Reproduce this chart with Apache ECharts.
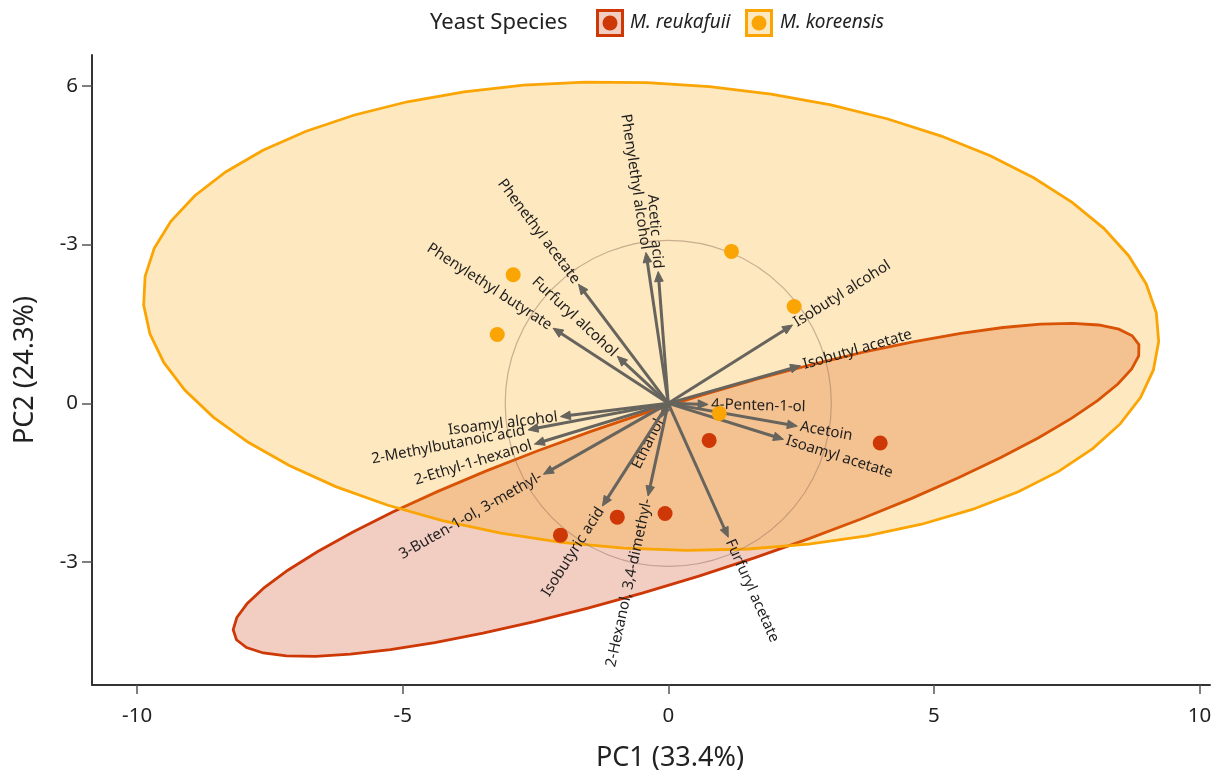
<!DOCTYPE html>
<html>
<head>
<meta charset="utf-8">
<title>PCA biplot - yeast species</title>
<script src="https://cdn.jsdelivr.net/npm/echarts@6/dist/echarts.min.js"></script>
<style>
    html, body { margin: 0; padding: 0; background: #fff; }
    #pca_biplot { width: 1216px; height: 777px; }
</style>
</head>
<body>
<div id="pca_biplot"></div>
<script>
// Sample scores per species
var reukafuiiX = [0.77, 3.99, -0.06, -0.96, -2.03];
var reukafuiiY = [-0.70, -0.75, -2.08, -2.15, -2.49];
var koreensisX = [1.19, 2.37, -2.92, -3.22, 0.96];
var koreensisY = [2.87, 1.83, 2.43, 1.30, -0.19];

// Variable loadings (arrow tips)
var variableNames = [
    'Phenylethyl alcohol', 'Acetic acid', 'Phenethyl acetate', 'Phenylethyl butyrate',
    'Furfuryl alcohol', 'Isobutyl alcohol', 'Isobutyl acetate', '4-Penten-1-ol',
    'Acetoin', 'Isoamyl acetate', 'Furfuryl acetate', '2-Hexanol, 3,4-dimethyl-',
    'Ethanol', 'Isobutyric acid', '3-Buten-1-ol, 3-methyl-', '2-Ethyl-1-hexanol',
    '2-Methylbutanoic acid', 'Isoamyl alcohol'
];
var loadingX = [-0.42, -0.19, -1.69, -2.17, -0.96, 2.34, 2.49, 0.75, 2.43, 2.17, 1.13, -0.38, -0.13, -1.24, -2.35, -2.52, -2.64, -2.03];
var loadingY = [2.85, 2.49, 2.25, 1.42, 0.89, 1.48, 0.71, -0.02, -0.43, -0.68, -2.53, -1.75, -0.26, -1.94, -1.34, -0.77, -0.50, -0.25];

// Correlation circle radius (in score units)
var circleRadius = 3.07;

// Axis ticks
var xTicks = [-10, -5, 0, 5, 10];
var yTicks = [6, 3, 0, -3];
var yTickLabels = ['6', '-3', '0', '-3'];

var speciesNames = ['M. reukafuii', 'M. koreensis'];
var RED = '#CD3806';
var ORANGE = '#FAA504';


// 95% normal data ellipse, as stat_ellipse(type = "norm")
function dataEllipse(xs, ys, segments) {
    var n = xs.length, mx = 0, my = 0, sxx = 0, syy = 0, sxy = 0, i;
    for (i = 0; i < n; i++) { mx += xs[i]; my += ys[i]; }
    mx /= n; my /= n;
    for (i = 0; i < n; i++) {
        var dx = xs[i] - mx, dy = ys[i] - my;
        sxx += dx * dx; syy += dy * dy; sxy += dx * dy;
    }
    sxx /= n - 1; syy /= n - 1; sxy /= n - 1;
    var tr = sxx + syy, det = sxx * syy - sxy * sxy;
    var disc = Math.sqrt(tr * tr / 4 - det);
    var l1 = tr / 2 + disc, l2 = Math.max(tr / 2 - disc, 0);
    var theta = 0.5 * Math.atan2(2 * sxy, sxx - syy);
    // F quantile for df1 = 2 has a closed form
    var d = n - 1;
    var f95 = (d / 2) * (Math.pow(0.05, -2 / d) - 1);
    var r = Math.sqrt(2 * f95);
    var a = r * Math.sqrt(l1), b = r * Math.sqrt(l2);
    var pts = [];
    for (var k = 0; k < segments; k++) {
        var t = 2 * Math.PI * k / segments;
        var ex = a * Math.cos(t), ey = b * Math.sin(t);
        pts.push([
            mx + ex * Math.cos(theta) - ey * Math.sin(theta),
            my + ex * Math.sin(theta) + ey * Math.cos(theta)
        ]);
    }
    return pts;
}

function ellipseSeries(pts, fill, stroke, z) {
    return {
        type: 'custom',
        z: z,
        silent: true,
        data: [[0, 0]],
        renderItem: function (params, api) {
            return {
                type: 'polygon',
                shape: { points: pts.map(function (p) { return api.coord(p); }) },
                style: { fill: fill, stroke: stroke, lineWidth: 2.8 }
            };
        }
    };
}

function zipPoints(xs, ys) {
    return xs.map(function (x, i) { return [x, ys[i]]; });
}

var chartElement = document.getElementById('pca_biplot');
var chart = echarts.init(chartElement);

chart.setOption({
    animation: false,
    textStyle: {
        fontFamily: '"Noto Sans", "Open Sans", sans-serif'
    },

    grid: {
        left: 92,
        right: 6,
        top: 55,
        bottom: 91
    },

    xAxis: {
        type: 'value',
        min: -10.85,
        max: 10.2,
        name: 'PC1 (33.4%)',
        nameLocation: 'middle',
        nameGap: 60,
        nameTextStyle: { fontSize: 27, color: '#222', padding: [0, 0, 0, 38] },
        axisLine: { onZero: false, lineStyle: { color: '#333', width: 2 } },
        axisTick: { customValues: xTicks, length: 9, lineStyle: { color: '#555', width: 1.5 } },
        axisLabel: { customValues: xTicks, fontSize: 20.5, color: '#222', margin: 21 },
        splitLine: { show: false }
    },

    yAxis: {
        type: 'value',
        min: -5.32,
        max: 6.58,
        name: 'PC2 (24.3%)',
        nameLocation: 'middle',
        nameGap: 53,
        nameTextStyle: { fontSize: 27, color: '#222' },
        axisLine: { onZero: false, lineStyle: { color: '#333', width: 2 } },
        axisTick: { customValues: yTicks, length: 10, lineStyle: { color: '#555', width: 1.5 } },
        axisLabel: {
            customValues: yTicks,
            fontSize: 20.5,
            color: '#222',
            margin: 14,
            formatter: function (v) {
                var i = yTicks.indexOf(v);
                return i >= 0 ? yTickLabels[i] : '';
            }
        },
        splitLine: { show: false }
    },

    // Legend drawn as graphic (boxed keys with dots)
    graphic: [
        { type: 'text', x: 430, y: 23, style: { text: 'Yeast Species', font: '22px "Noto Sans"', fill: '#222', verticalAlign: 'middle' } },
        { type: 'rect', shape: { x: 597.5, y: 10.5, width: 25, height: 25 }, style: { fill: 'rgba(205,56,6,0.25)', stroke: RED, lineWidth: 3 } },
        { type: 'circle', shape: { cx: 610, cy: 23, r: 7.5 }, style: { fill: RED } },
        { type: 'text', x: 630, y: 23, style: { text: speciesNames[0], font: 'italic 19px "Noto Sans"', fill: '#222', verticalAlign: 'middle' } },
        { type: 'rect', shape: { x: 746.5, y: 10.5, width: 25, height: 25 }, style: { fill: 'rgba(250,165,4,0.25)', stroke: ORANGE, lineWidth: 3 } },
        { type: 'circle', shape: { cx: 759, cy: 23, r: 7.5 }, style: { fill: ORANGE } },
        { type: 'text', x: 780, y: 23, style: { text: speciesNames[1], font: 'italic 19px "Noto Sans"', fill: '#222', verticalAlign: 'middle' } }
    ],

    series: [
        ellipseSeries(dataEllipse(reukafuiiX, reukafuiiY, 51), 'rgba(205,56,6,0.25)', RED, 1),
        ellipseSeries(dataEllipse(koreensisX, koreensisY, 51), 'rgba(250,165,4,0.25)', ORANGE, 1),

        // Correlation circle
        {
            type: 'custom',
            z: 2,
            silent: true,
            data: [[0, 0]],
            renderItem: function (params, api) {
                var c = api.coord([0, 0]);
                var r = api.size([circleRadius, 0])[0];
                return {
                    type: 'circle',
                    shape: { cx: c[0], cy: c[1], r: r },
                    style: { fill: 'none', stroke: 'rgba(150,115,95,0.5)', lineWidth: 1.2 }
                };
            }
        },

        // Loading arrows with labels
        {
            type: 'custom',
            z: 3,
            silent: true,
            data: loadingX.map(function (x, i) { return [x, loadingY[i], i]; }),
            renderItem: function (params, api) {
                var o = api.coord([0, 0]);
                var t = api.coord([api.value(0), api.value(1)]);
                var dx = t[0] - o[0], dy = t[1] - o[1];
                var len = Math.sqrt(dx * dx + dy * dy);
                var ux = dx / len, uy = dy / len;
                var head = 10, half = 4.3;
                var bx = t[0] - ux * head, by = t[1] - uy * head;
                var textRot = Math.atan(-dy / dx);
                var gap = 3;
                return {
                    type: 'group',
                    children: [
                        {
                            type: 'line',
                            shape: { x1: o[0], y1: o[1], x2: bx + ux * 2, y2: by + uy * 2 },
                            style: { stroke: '#66645d', lineWidth: 3 }
                        },
                        {
                            type: 'polygon',
                            shape: { points: [[t[0], t[1]], [bx - uy * half, by + ux * half], [bx + uy * half, by - ux * half]] },
                            style: { fill: '#66645d', stroke: '#66645d', lineWidth: 1 }
                        },
                        {
                            type: 'text',
                            x: t[0] + ux * gap,
                            y: t[1] + uy * gap,
                            rotation: textRot,
                            style: {
                                text: variableNames[api.value(2)],
                                font: '15px "Noto Sans"',
                                fill: '#1e1e1e',
                                align: dx >= 0 ? 'left' : 'right',
                                verticalAlign: 'middle'
                            }
                        }
                    ]
                };
            }
        },

        // Sample points
        {
            name: speciesNames[0],
            type: 'scatter',
            z: 4,
            symbolSize: 15,
            itemStyle: { color: RED, opacity: 1 },
            data: zipPoints(reukafuiiX, reukafuiiY)
        },
        {
            name: speciesNames[1],
            type: 'scatter',
            z: 4,
            symbolSize: 15,
            itemStyle: { color: ORANGE, opacity: 1 },
            data: zipPoints(koreensisX, koreensisY)
        }
    ]
});
</script>
</body>
</html>
